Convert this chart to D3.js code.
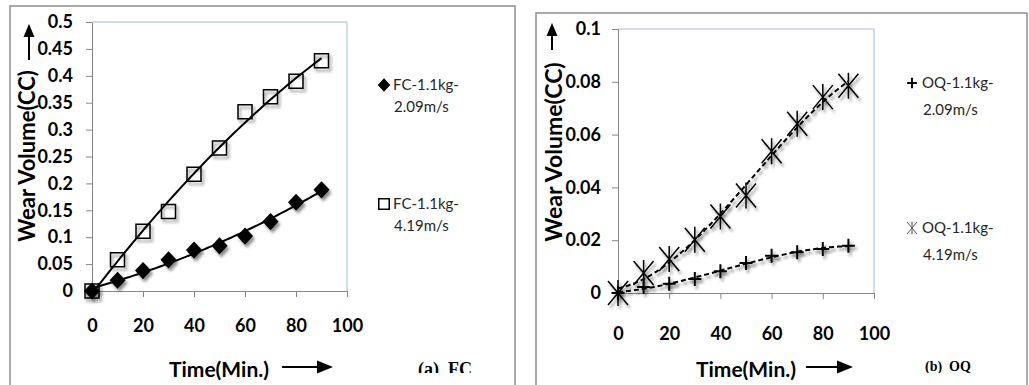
<!DOCTYPE html>
<html>
<head>
<meta charset="utf-8">
<script src="https://cdn.jsdelivr.net/npm/d3@7"></script>
<style>
  body { margin: 0; background: #fff; }
  svg { display: block; }
  .tick text { font-family: Lato, "Open Sans", sans-serif; font-weight: bold; font-size: 18px; fill: #000; }
  .axis path, .axis line { stroke: #868686; stroke-width: 1; }
</style>
</head>
<body>
<div id="chart"></div>
<script>
// time axis (minutes)
const timeMin = [0, 10, 20, 30, 40, 50, 60, 70, 80, 90];

// (a) FC wear volume, cc
const fc209 = [0, 0.020, 0.038, 0.058, 0.076, 0.084, 0.102, 0.129, 0.165, 0.188];
const fc419 = [0, 0.058, 0.111, 0.148, 0.217, 0.266, 0.333, 0.361, 0.390, 0.428];

// (b) OQ wear volume, cc
const oq209 = [0, 0.0023, 0.0035, 0.0053, 0.0082, 0.0114, 0.0141, 0.0154, 0.0167, 0.0179];
const oq419 = [0, 0.0076, 0.0129, 0.0202, 0.0290, 0.0369, 0.0537, 0.0641, 0.0742, 0.0785];

const xTickLabels = ["0", "20", "40", "60", "80", "100"];
const yTickLabelsFC = ["0", "0.05", "0.1", "0.15", "0.2", "0.25", "0.3", "0.35", "0.4", "0.45", "0.5"];
const yTickLabelsOQ = ["0", "0.02", "0.04", "0.06", "0.08", "0.1"];

const legendFC = [["FC-1.1kg-", "2.09m/s"], ["FC-1.1kg-", "4.19m/s"]];
const legendOQ = [["OQ-1.1kg-", "2.09m/s"], ["OQ-1.1kg-", "4.19m/s"]];

const W = 1029, H = 385;
const FONT = 'Lato, "Open Sans", sans-serif';

const svg = d3.select('#chart').append('svg')
  .attr('width', W)
  .attr('height', H);

const defs = svg.append('defs');
defs.append('filter')
  .attr('id', 'shadow')
  .attr('x', '-50%').attr('y', '-50%').attr('width', '200%').attr('height', '200%')
  .append('feDropShadow')
  .attr('dx', 2).attr('dy', 3)
  .attr('stdDeviation', 1.6)
  .attr('flood-color', '#000')
  .attr('flood-opacity', 0.45);
defs.append('clipPath').attr('id', 'capclip')
  .append('rect').attr('x', 0).attr('y', 0).attr('width', W).attr('height', 373);

// least squares polynomial, like the spreadsheet trendline
function polyFit(xs, ys, deg) {
  const n = deg + 1;
  const A = d3.range(n).map(() => new Array(n + 1).fill(0));
  xs.forEach((x, k) => {
    for (let i = 0; i < n; i++) {
      for (let j = 0; j < n; j++) A[i][j] += Math.pow(x, i + j);
      A[i][n] += ys[k] * Math.pow(x, i);
    }
  });
  for (let c = 0; c < n; c++) {
    let p = c;
    for (let r = c + 1; r < n; r++) if (Math.abs(A[r][c]) > Math.abs(A[p][c])) p = r;
    [A[c], A[p]] = [A[p], A[c]];
    for (let r = 0; r < n; r++) {
      if (r === c) continue;
      const f = A[r][c] / A[c][c];
      for (let k = c; k <= n; k++) A[r][k] -= f * A[c][k];
    }
  }
  const coef = A.map((row, i) => row[n] / row[i]);
  return x => coef.reduce((s, a, i) => s + a * Math.pow(x, i), 0);
}

const markerPaths = {
  diamond: 'M0,-7.5L7,0L0,7.5L-7,0Z',
  square: 'M-7,-7H7V7H-7Z',
  plus: 'M-6.5,0H6.5M0,-7V7',
  star: 'M-10,-12L10,12M-10,12L10,-12M0,-13V13'
};

function upArrow(g, x, yTop, yBottom) {
  g.append('line')
    .attr('x1', x).attr('x2', x)
    .attr('y1', yBottom).attr('y2', yTop + 10)
    .attr('stroke', '#000').attr('stroke-width', 2);
  g.append('path')
    .attr('d', `M${x},${yTop}L${x + 5.5},${yTop + 13}L${x - 5.5},${yTop + 13}Z`)
    .attr('fill', '#000');
}

function rightArrow(g, x1, x2, y) {
  g.append('line')
    .attr('x1', x1).attr('x2', x2 - 10)
    .attr('y1', y).attr('y2', y)
    .attr('stroke', '#000').attr('stroke-width', 2);
  g.append('path')
    .attr('d', `M${x2},${y}L${x2 - 16},${y - 6.5}L${x2 - 16},${y + 6.5}Z`)
    .attr('fill', '#000');
}

function drawPanel(cfg) {
  const g = svg.append('g');

  // outer frame of the figure panel
  g.append('path')
    .attr('d', `M${cfg.frame[0]},${H}V${cfg.frame[1]}H${cfg.frame[2]}V${H}`)
    .attr('fill', 'none')
    .attr('stroke', '#8f8f8f')
    .attr('stroke-width', 1.5);

  const x = d3.scaleLinear().domain([0, 100]).range([cfg.left, cfg.right]);
  const y = d3.scaleLinear().domain([0, cfg.yMax]).range([cfg.bottom, cfg.top]);

  // plot area border (top / right)
  g.append('path')
    .attr('d', `M${cfg.left},${cfg.top}H${cfg.right}V${cfg.bottom}`)
    .attr('fill', 'none')
    .attr('stroke', '#9fbbe0')
    .attr('stroke-width', 1);

  const yAxis = d3.axisLeft(y)
    .tickValues(cfg.yTicks.map(Number))
    .tickFormat((d, i) => cfg.yTicks[i])
    .tickSize(6).tickSizeOuter(0).tickPadding(cfg.yPad);
  g.append('g')
    .attr('class', 'axis')
    .attr('transform', `translate(${cfg.left},0)`)
    .call(yAxis);

  const xAxis = d3.axisBottom(x)
    .tickValues(xTickLabels.map(Number))
    .tickFormat((d, i) => xTickLabels[i])
    .tickSize(6).tickSizeOuter(0).tickPadding(cfg.xPad);
  g.append('g')
    .attr('class', 'axis')
    .attr('transform', `translate(0,${cfg.bottom})`)
    .call(xAxis);

  // trendlines
  const line = d3.line()
    .x(d => x(d[0]))
    .y(d => y(d[1]));
  const samples = d3.range(0, 90.5, 1);
  cfg.series.forEach(s => {
    const f = polyFit(timeMin, s.values, s.deg);
    g.append('path')
      .attr('d', line(samples.map(t => [t, f(t)])))
      .attr('fill', 'none')
      .attr('stroke', '#000')
      .attr('stroke-width', 2)
      .attr('stroke-dasharray', s.dash || null)
      .attr('filter', s.dash ? 'url(#shadow)' : null);
  });

  // markers
  cfg.series.forEach(s => {
    g.append('g').selectAll('path')
      .data(s.values)
      .enter()
      .append('path')
      .attr('transform', (d, i) => `translate(${x(timeMin[i])},${y(d)})`)
      .attr('d', markerPaths[s.marker])
      .attr('fill', s.marker === 'diamond' ? '#000' : 'none')
      .attr('stroke', '#000')
      .attr('stroke-width', s.marker === 'plus' ? 2 : 1.5)
      .attr('filter', 'url(#shadow)');
  });

  // legend
  cfg.series.forEach((s, i) => {
    const ly = cfg.legendY[i];
    const lg = g.append('g').attr('transform', `translate(${cfg.legendX},${ly})`);
    lg.append('path')
      .attr('d', markerPaths[s.marker])
      .attr('transform', s.marker === 'star' ? 'scale(0.5)' : 'scale(0.75)')
      .attr('fill', s.marker === 'diamond' ? '#000' : 'none')
      .attr('stroke', s.marker === 'star' ? '#555' : '#000')
      .attr('stroke-width', s.marker === 'star' ? 2 : (s.marker === 'plus' ? 2.6 : 2));
    lg.selectAll('text')
      .data(cfg.legend[i])
      .enter()
      .append('text')
      .attr('x', (d, j) => cfg.legendTextX + (j ? 1 : 0))
      .attr('y', (d, j) => 5 + j * cfg.legendLine)
      .style('font-family', FONT)
      .style('font-size', '15px')
      .style('fill', '#262626')
      .text(d => d);
  });

  // axis titles
  g.append('text')
    .attr('transform', `translate(${cfg.yTitleX},${cfg.yTitleY}) rotate(-90)`)
    .attr('text-anchor', 'middle')
    .style('font-family', FONT)
    .style('font-weight', 'bold')
    .style('font-size', cfg.yTitleSize + 'px')
    .text('Wear Volume(CC)');
  upArrow(g, cfg.yArrowX, cfg.yArrowTop, cfg.yArrowBottom);

  g.append('text')
    .attr('x', cfg.xTitleX)
    .attr('y', 377)
    .attr('text-anchor', 'middle')
    .style('font-family', FONT)
    .style('font-weight', 'bold')
    .style('font-size', '21px')
    .text('Time(Min.)');
  rightArrow(g, cfg.xArrow[0], cfg.xArrow[1], 367);

  g.append('text')
    .attr('x', cfg.capX)
    .attr('y', cfg.capY)
    .attr('clip-path', 'url(#capclip)')
    .style('font-family', '"Liberation Serif", "Times New Roman", serif')
    .style('font-weight', 'bold')
    .style('font-size', cfg.capSize + 'px')
    .style('white-space', 'pre')
    .text(cfg.caption);
}

drawPanel({
  frame: [10, 6, 515],
  left: 92, right: 347, top: 22, bottom: 291,
  yMax: 0.5, yTicks: yTickLabelsFC, yPad: 13, xPad: 22,
  series: [
    { values: fc209, marker: 'diamond', deg: 2 },
    { values: fc419, marker: 'square', deg: 2 }
  ],
  legend: legendFC, legendX: 384, legendY: [85, 204], legendTextX: 9, legendLine: 22,
  yTitleX: 35, yTitleY: 156, yTitleSize: 22,
  yArrowX: 29, yArrowTop: 24, yArrowBottom: 60,
  xTitleX: 219, xArrow: [282, 333],
  caption: '(a)  FC', capX: 418, capY: 375, capSize: 18
});

drawPanel({
  frame: [536, 13, 1027],
  left: 618, right: 874, top: 29, bottom: 293,
  yMax: 0.1, yTicks: yTickLabelsOQ, yPad: 11, xPad: 28,
  series: [
    { values: oq209, marker: 'plus', deg: 3, dash: '5,3' },
    { values: oq419, marker: 'star', deg: 3, dash: '5,3' }
  ],
  legend: legendOQ, legendX: 912, legendY: [83, 228], legendTextX: 10, legendLine: 27,
  yTitleX: 562, yTitleY: 152, yTitleSize: 23,
  yArrowX: 552, yArrowTop: 23, yArrowBottom: 50,
  xTitleX: 746, xArrow: [806, 853],
  caption: '(b)  OQ', capX: 925, capY: 371, capSize: 14
});
</script>
</body>
</html>
